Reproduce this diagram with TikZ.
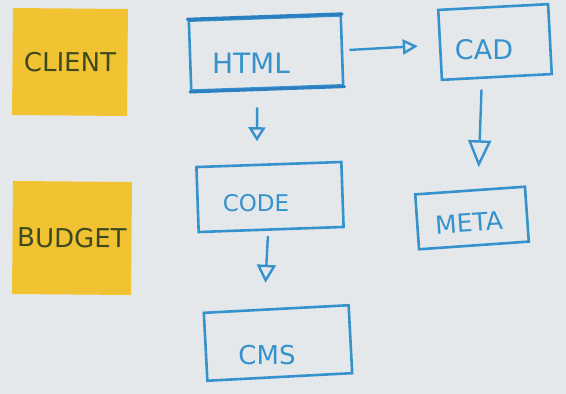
\documentclass[tikz,border=0pt]{standalone}
\usepackage{fontspec}
\setmainfont{DejaVu Sans}
\usetikzlibrary{arrows.meta,positioning}
\definecolor{board}{HTML}{E4E8EA}
\definecolor{marker}{HTML}{3592CC}
\definecolor{darkmarker}{HTML}{2A7FC0}
\definecolor{sticky}{HTML}{F1C232}
\definecolor{pencil}{HTML}{3D4A20}

\newcommand{\hand}[1]{\fontsize{#1}{#1}\selectfont}

\begin{document}
\begin{tikzpicture}[x=1pt, y=-1pt,
    note/.style={rectangle, fill=sticky, text=pencil, inner sep=0pt, font=\hand{26}},
    sketchbox/.style={rectangle, draw=marker, line width=2.6pt, inner sep=0pt},
    scrawl/.style={text=marker, inner sep=0pt, font=\hand{26}},
    flow/.style={draw=marker, line width=2.4pt, line cap=round, line join=round}]
    \useasboundingbox (0,0) rectangle (566,394);
    \fill[board] (0,0) rectangle (566,394);
    % sticky notes
    \node[note, minimum width=115, minimum height=107, rotate=-0.5] (client) at (70,62) {CLIENT};
    \node[note, minimum width=119, minimum height=113, rotate=-0.5] (budget) at (72,238) {BUDGET};
    % boxes on the board
    \node[sketchbox, minimum width=152, minimum height=70, rotate=2] (html) at (266,53) {};
    \node[sketchbox, minimum width=110, minimum height=70, rotate=3] (cad) at (495,42) {};
    \node[sketchbox, minimum width=145, minimum height=65, rotate=2] (code) at (270,197) {};
    \node[sketchbox, minimum width=110, minimum height=55, rotate=4] (meta) at (472,218) {};
    \node[sketchbox, minimum width=145, minimum height=68, rotate=3] (cms) at (278,343) {};
    \draw[darkmarker, line width=3.4pt, line cap=round] (html.north west) -- (html.north east);
    \draw[darkmarker, line width=3pt, line cap=round] (html.south west) -- (html.south east);
    % writing inside the boxes
    \node[scrawl, font=\hand{28}] (htmltext) at (251,63) {HTML};
    \node[scrawl, font=\hand{27}] (cadtext) at (484,50) {CAD};
    \node[scrawl, font=\hand{23}] (codetext) at (256,203) {CODE};
    \node[scrawl, font=\hand{25}, rotate=4] (metatext) at (469,223) {META};
    \node[scrawl, font=\hand{26}] (cmstext) at (267,355) {CMS};
    % arrows
    \draw[flow, -{Triangle[open, length=15pt, width=15pt]}, shorten <=7pt, shorten >=21pt] (html.east) -- (cad.west);
    \draw[flow, -{Triangle[open, length=14pt, width=17pt]}, shorten <=19pt, shorten >=22pt] ([xshift=-10pt]html.south) -- ([xshift=-12pt]code.north);
    \draw[flow, -{Triangle[open, length=27pt, width=23pt]}, shorten <=12pt, shorten >=22pt] ([xshift=-15pt]cad.south) -- ([xshift=8pt]meta.north);
    \draw[flow, -{Triangle[open, length=18pt, width=19pt]}, shorten <=6pt, shorten >=25pt] ([xshift=-3pt]code.south) -- ([xshift=-12pt]cms.north);
\end{tikzpicture}
\end{document}
